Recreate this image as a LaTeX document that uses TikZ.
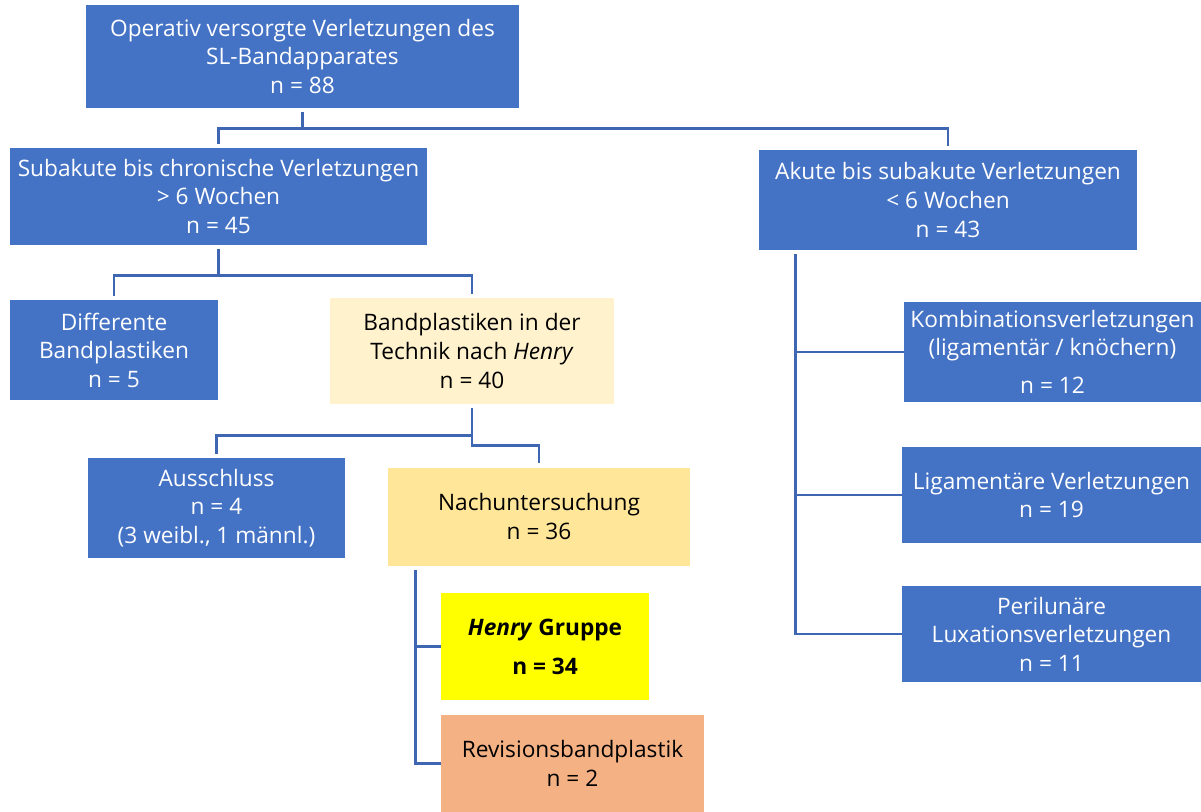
\documentclass[tikz,border=0pt]{standalone}
\usepackage{fontspec}
\setmainfont{Open Sans}
\usetikzlibrary{
  calc,
  positioning,
}
\definecolor{officeblue}{RGB}{68, 114, 196}
\definecolor{lineblue}{RGB}{63, 102, 178}
\definecolor{paleyellow}{RGB}{255, 242, 204}
\definecolor{lightgold}{RGB}{255, 230, 153}
\definecolor{brightyellow}{RGB}{255, 255, 0}
\definecolor{peach}{RGB}{244, 177, 131}
\tikzstyle{box} = [
  rectangle,
  draw=none,
  inner sep=0pt,
  align=center,
  font=\fontsize{17pt}{21.4pt}\selectfont,
]
\tikzstyle{bluebox} = [box, fill=officeblue, text=white]
\tikzstyle{conn} = [
  -,
  line width=2pt,
  color=lineblue,
]

\begin{document}
\begin{tikzpicture}[x=0.75pt,y=-0.75pt]
			\useasboundingbox (0,0) rectangle (1201,812);

			\node[bluebox,minimum width=433*0.75pt,minimum height=103*0.75pt] (root) at (302.5,56.5) {Operativ versorgte Verletzungen des\\SL-Bandapparates\\n = 88};

			\node[bluebox,minimum width=417*0.75pt,minimum height=97*0.75pt] (sub) at (218.5,196.5) {Subakute bis chronische Verletzungen\\> 6 Wochen\\n = 45};
			\node[bluebox,minimum width=378*0.75pt,minimum height=100*0.75pt] (akut) at (948,200) {Akute bis subakute Verletzungen\\< 6 Wochen\\n = 43};

			\node[bluebox,minimum width=208*0.75pt,minimum height=100*0.75pt] (diff) at (114,350) {Differente\\Bandplastiken\\n = 5};
			\node[box,fill=paleyellow,minimum width=284*0.75pt,minimum height=106*0.75pt] (band) at (472,351) {Bandplastiken in der\\Technik nach \textit{Henry}\\n = 40};

			\node[bluebox,minimum width=257*0.75pt,minimum height=100*0.75pt] (aus) at (216.5,508) {Ausschluss\\n = 4\\(3 weibl., 1 männl.)};
			\node[box,fill=lightgold,minimum width=302*0.75pt,minimum height=98*0.75pt] (nach) at (539,516.5) {Nachuntersuchung\\n = 36};

			\node[box,fill=brightyellow,minimum width=208*0.75pt,minimum height=107*0.75pt,font=\fontsize{17pt}{21.4pt}\selectfont\bfseries] (henry) at (545,646.5) {\textit{Henry} Gruppe\\[8pt]n = 34};
			\node[box,fill=peach,minimum width=263*0.75pt,minimum height=97*0.75pt] (rev) at (572.5,763.5) {Revisionsbandplastik\\n = 2};

			\node[bluebox,minimum width=297*0.75pt,minimum height=100*0.75pt] (komb) at (1052.5,352) {Kombinationsverletzungen\\(ligamentär / knöchern)\\[7pt]n = 12};
			\node[bluebox,minimum width=299*0.75pt,minimum height=96*0.75pt] (liga) at (1051.5,495) {Ligamentäre Verletzungen\\n = 19};
			\node[bluebox,minimum width=299*0.75pt,minimum height=96*0.75pt] (peri) at (1051.5,634) {Perilunäre\\Luxationsverletzungen\\n = 11};

			% level 1
			\draw[conn] ($(root.south)+(0,4)$) -- ++(0,16) -| ($(sub.north)+(0,-4)$);
			\draw[conn] ($(root.south)+(0,4)$) -- ++(0,16) -| ($(akut.north)+(0,-4)$);

			% level 2 left
			\draw[conn] ($(sub.south)+(0,4)$) -- ++(0,26) -| ($(diff.north)+(0,-4)$);
			\draw[conn] ($(sub.south)+(0,4)$) -- ++(0,26) -| ($(band.north)+(0,-4)$);

			% level 3
			\draw[conn] ($(band.south)+(0,4)$) -- ++(0,27) -| ($(aus.north)+(0,-4)$);
			\draw[conn] ($(band.south)+(0,4)$) -- ++(0,37) -| ($(nach.north)+(0,-4)$);

			% nachuntersuchung
			\draw[conn] ($(nach.south west)+(28,4)$) |- (henry.west);
			\draw[conn] ($(nach.south west)+(28,4)$) |- (rev.west);

			% akute
			\draw[conn] ($(akut.south west)+(37,4)$) |- (komb.west);
			\draw[conn] ($(akut.south west)+(37,4)$) |- (liga.west);
			\draw[conn] ($(akut.south west)+(37,4)$) |- (peri.west);
		\end{tikzpicture}
\end{document}
